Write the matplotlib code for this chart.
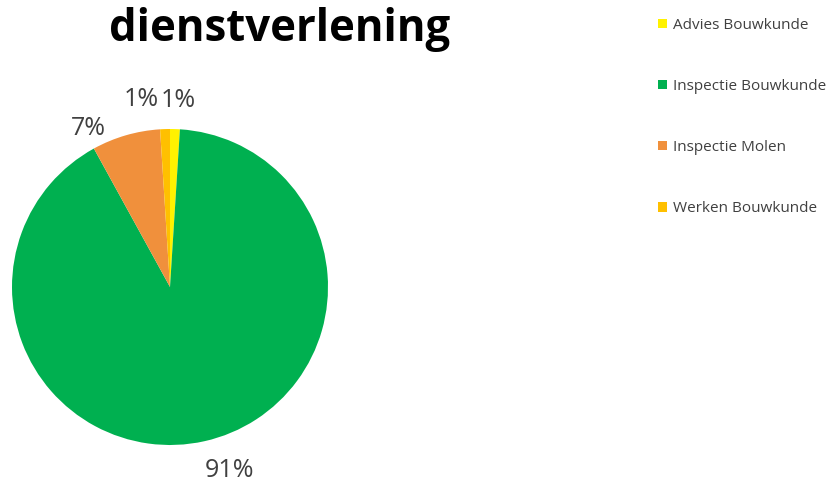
import numpy as np
import matplotlib.pyplot as plt
from matplotlib.patches import Patch

categories = ['Advies Bouwkunde', 'Inspectie Bouwkunde', 'Inspectie Molen', 'Werken Bouwkunde']
values = [1, 91, 7, 1]
colors = ['#FFF200', '#00B050', '#F0903C', '#FFC000']
pct_labels = ['1%', '91%', '7%', '1%']

plt.rcParams['font.family'] = ['Open Sans', 'DejaVu Sans']

fig = plt.figure(figsize=(8.3, 4.84), dpi=100)
ax = fig.add_axes([12 / 830, 39 / 484, 316 / 830, 316 / 484])

wedges, _ = ax.pie(values, colors=colors, startangle=90, counterclock=False,
                   radius=1.0)
ax.set_xlim(-1, 1)
ax.set_ylim(-1, 1)
ax.set_aspect('equal')
ax.axis('off')

# label positions: distance from centre and small angle tweaks per slice
dist = [1.18, 1.22, 1.13, 1.2]
shift = [-0.7, 5.4, 11.0, 7.0]
for w, lab, d, s in zip(wedges, pct_labels, dist, shift):
    ang = np.deg2rad((w.theta1 + w.theta2) / 2 + s)
    ax.text(d * np.cos(ang), d * np.sin(ang), lab, ha='center', va='center',
            fontsize=18, color='#404040', clip_on=False)

fig.text(280 / 830, 1 - 30 / 484, 'dienstverlening', ha='center', va='center',
         fontsize=31.5, fontweight='bold', color='black')

handles = [Patch(facecolor=c, edgecolor='none') for c in colors]
fig.legend(handles, categories, loc='upper left', bbox_to_anchor=(644 / 830, 1 - 4 / 484),
           frameon=False, fontsize=11, labelspacing=3.02, handlelength=0.6,
           handleheight=0.6, handletextpad=0.4, labelcolor='#404040')

fig.savefig('out.png', dpi=100)
